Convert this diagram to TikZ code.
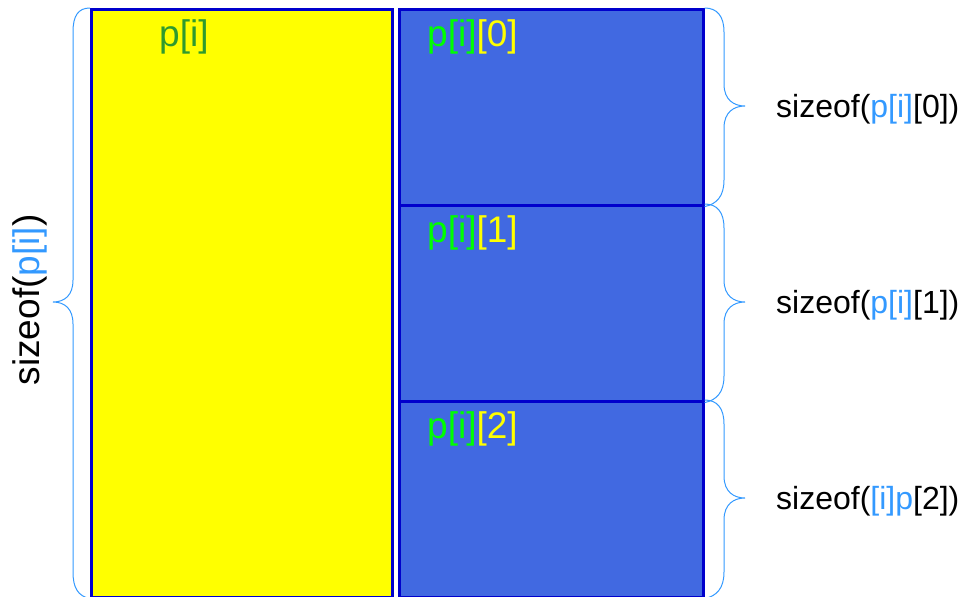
\documentclass[tikz,border=0pt]{standalone}
\usepackage{fontspec}
\setmainfont{Liberation Sans}
\usetikzlibrary{calc}
\definecolor{edgeblue}{HTML}{0000CC}
\definecolor{fillblue}{HTML}{4169E1}
\definecolor{bracecol}{HTML}{3399FF}
\definecolor{labblue}{HTML}{3399FF}
\definecolor{darkgr}{HTML}{2E9A2E}
\definecolor{lime}{HTML}{00FF00}
\definecolor{yel}{HTML}{FFFF00}
\tikzset{
  cell/.style={draw=edgeblue, line width=2.6pt, rectangle, inner sep=0pt, anchor=north west},
  big/.style={font=\fontsize{37}{40}\selectfont, inner sep=0pt},
  small/.style={font=\fontsize{32}{36}\selectfont, inner sep=0pt, anchor=west},
  bracestyle/.style={draw=bracecol, line width=1pt}
}
\begin{document}
\begin{tikzpicture}[x=1pt,y=-1pt]
\useasboundingbox (0,0) rectangle (962,597);
\node[cell, fill=yel, minimum width=301pt, minimum height=588pt] (ybox) at (90,8) {};
\node[cell, fill=fillblue, minimum width=304pt, minimum height=196pt] (b0) at (398,8) {};
\node[cell, fill=fillblue, minimum width=304pt, minimum height=196pt] (b1) at (398,204) {};
\node[cell, fill=fillblue, minimum width=304pt, minimum height=196pt] (b2) at (398,400) {};

\node[big, anchor=base west, text=darkgr] (ylab) at (159,46) {p[i]};
\node[big, anchor=base west] (l0) at (427,46) {\textcolor{lime}{p[i]}\textcolor{yel}{[0]}};
\node[big, anchor=base west] (l1) at (427,242) {\textcolor{lime}{p[i]}\textcolor{yel}{[1]}};
\node[big, anchor=base west] (l2) at (427,438) {\textcolor{lime}{p[i]}\textcolor{yel}{[2]}};

% left brace
\coordinate (ltip) at (53,302);
\draw[bracestyle] (ybox.north west) .. controls (78,8) and (73,16) .. (73,32) -- (73,280) .. controls (73,295) and (65,302) .. (ltip) .. controls (65,302) and (73,309) .. (73,324) -- (73,572) .. controls (73,588) and (78,596) .. (ybox.south west);
\node[big, rotate=90, anchor=center] (lt) at (30,300) {sizeof(\textcolor{labblue}{p[i]})};

% right braces
\foreach \k/\a/\b/\m/\t in {0/8/204/106/{\textcolor{labblue}{p[i]}[0]}, 1/204/400/302/{\textcolor{labblue}{p[i]}[1]}, 2/400/596/498/{\textcolor{labblue}{[i]p}[2]}}{
  \coordinate (rt\k) at (745,\m);
  \draw[bracestyle] (b\k.north east) .. controls (717,\a) and (724,\a+8) .. (724,\a+24) -- (724,\m-22) .. controls (724,\m-6) and (734,\m) .. (rt\k) .. controls (734,\m) and (724,\m+6) .. (724,\m+22) -- (724,\b-24) .. controls (724,\b-8) and (717,\b) .. (b\k.south east);
  \node[small] (rl\k) at (776,\m+3) {sizeof(\t)};
}
\end{tikzpicture}
\end{document}
